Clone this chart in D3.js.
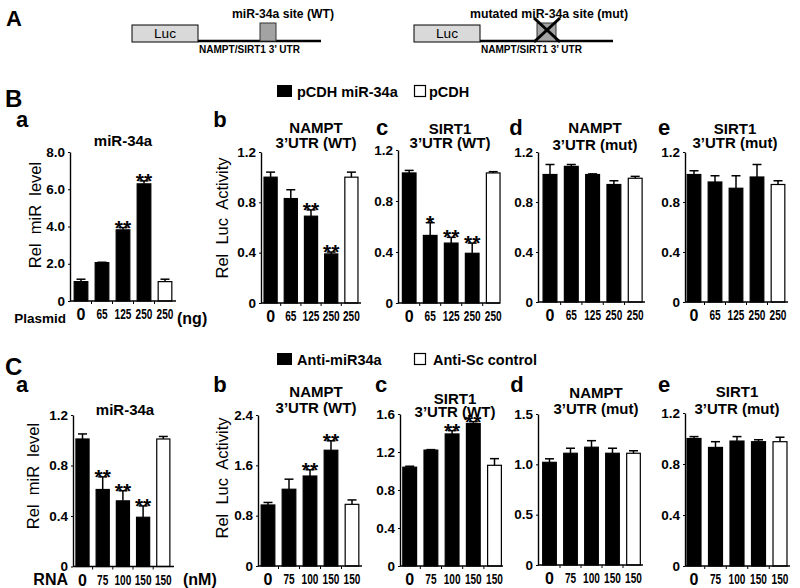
<!DOCTYPE html>
<html><head><meta charset="utf-8">
<script src="https://cdn.jsdelivr.net/npm/d3@7"></script>
<style>body{margin:0;background:#fff}svg{display:block;font-family:"Liberation Sans",Arial,sans-serif}</style>
</head><body><svg id="c" width="800" height="588"></svg>
<script>
// ---------- data ----------
const doseB = ["0","65","125","250","250"];
const doseC = ["0","75","100","150","150"];
const legendB = ["pCDH miR-34a","pCDH"];
const legendC = ["Anti-miR34a","Anti-Sc control"];

const baMean=[1.04,2.06,3.82,6.29,1.04], baErr=[0.13,0.02,0.12,0.16,0.13], baSig=["","","**","**",""];
const bbMean=[1.0,0.83,0.69,0.39,1.0],   bbErr=[0.04,0.07,0.05,0.015,0.04], bbSig=["","","**","**",""];
const bcMean=[1.02,0.53,0.47,0.39,1.02], bcErr=[0.02,0.10,0.045,0.08,0.01], bcSig=["","*","**","**",""];
const bdMean=[1.02,1.085,1.02,0.94,0.99],bdErr=[0.08,0.015,0.005,0.03,0.015], bdSig=["","","","",""];
const beMean=[1.02,0.96,0.91,1.0,0.94],  beErr=[0.03,0.05,0.10,0.10,0.03], beSig=["","","","",""];
const caMean=[1.01,0.61,0.52,0.39,1.01], caErr=[0.04,0.10,0.08,0.09,0.02], caSig=["","**","**","**",""];
const cbMean=[0.97,1.22,1.43,1.84,0.98], cbErr=[0.04,0.16,0.10,0.15,0.07], cbSig=["","","**","**",""];
const ccMean=[1.04,1.22,1.39,1.50,1.06], ccErr=[0.01,0.005,0.035,0.02,0.07], ccSig=["","","**","**",""];
const cdMean=[1.02,1.11,1.17,1.11,1.11], cdErr=[0.035,0.05,0.065,0.05,0.025], cdSig=["","","","",""];
const ceMean=[1.0,0.93,0.98,0.975,0.975],ceErr=[0.015,0.045,0.035,0.015,0.035], ceSig=["","","","",""];

const ticks8=[0,2,4,6,8], ticks12=[0,0.4,0.8,1.2], ticks24=[0,0.8,1.6,2.4], ticks16=[0,0.4,0.8,1.2,1.6], ticks15=[0,0.5,1.0,1.5];

// ---------- layout ----------
const panels = [
 {mean:baMean,err:baErr,sig:baSig,cats:doseB,ticks:ticks8, ax:70, c0:81,  step:21,  end:176,y0:301,yTop:152,title:["miR-34a"],tx:123,ty:[141],letter:"a",lx:22,ly:127,yt:"Rel  miR  level",ytx:35,yty:215},
 {mean:bbMean,err:bbErr,sig:bbSig,cats:doseB,ticks:ticks12,ax:261,c0:270.6,step:20.2,end:361,y0:303,yTop:152,title:["NAMPT","3’UTR (WT)"],tx:316,ty:[128,143],letter:"b",lx:220,ly:127,yt:"Rel  Luc  Activity",ytx:222,yty:218},
 {mean:bcMean,err:bcErr,sig:bcSig,cats:doseB,ticks:ticks12,ax:398,c0:409.2,step:21,end:500,y0:303,yTop:150,title:["SIRT1","3’UTR (WT)"],tx:450,ty:[129,143],letter:"c",lx:382,ly:135},
 {mean:bdMean,err:bdErr,sig:bdSig,cats:doseB,ticks:ticks12,ax:538,c0:550,step:21.3,end:645,y0:302,yTop:152,title:["NAMPT","3’UTR (mut)"],tx:595,ty:[128,145],letter:"d",lx:516,ly:135},
 {mean:beMean,err:beErr,sig:beSig,cats:doseB,ticks:ticks12,ax:685,c0:694,step:21,end:788,y0:302,yTop:152,title:["SIRT1","3’UTR (mut)"],tx:735,ty:[129,143],letter:"e",lx:664,ly:135},
 {mean:caMean,err:caErr,sig:caSig,cats:doseC,ticks:ticks12,ax:73, c0:82.5,step:20.2,end:174,y0:566.5,yTop:415,title:["miR-34a"],tx:125,ty:[410],letter:"a",lx:22,ly:392,yt:"Rel  miR  level",ytx:33,yty:476},
 {mean:cbMean,err:cbErr,sig:cbSig,cats:doseC,ticks:ticks24,ax:258,c0:268,step:21,end:362,y0:566,yTop:415,title:["NAMPT","3’UTR (WT)"],tx:316,ty:[392,408],letter:"b",lx:220,ly:392,yt:"Rel  Luc  Activity",ytx:222,yty:478},
 {mean:ccMean,err:ccErr,sig:ccSig,cats:doseC,ticks:ticks16,ax:400,c0:409.7,step:21.2,end:503,y0:566,yTop:414,title:["SIRT1","3’UTR (WT)"],tx:455,ty:[399,412],letter:"c",lx:381,ly:392},
 {mean:cdMean,err:cdErr,sig:cdSig,cats:doseC,ticks:ticks15,ax:538,c0:549.5,step:21,end:643,y0:565,yTop:414,title:["NAMPT","3’UTR (mut)"],tx:596,ty:[393,409],letter:"d",lx:517,ly:392},
 {mean:ceMean,err:ceErr,sig:ceSig,cats:doseC,ticks:ticks12,ax:685,c0:694,step:21.5,end:790,y0:566,yTop:413,title:["SIRT1","3’UTR (mut)"],tx:737,ty:[392,409],letter:"e",lx:664,ly:392}
];

const svg = d3.select("#c");
svg.append("rect").attr("width",800).attr("height",588).attr("fill","#fff");

function txt(x,y,s,size,weight,anchor,len){
  const t = svg.append("text").attr("x",x).attr("y",y).text(s)
    .attr("font-size",size).attr("font-weight",weight||"bold")
    .attr("text-anchor",anchor||"start").attr("fill","#000");
  if(len) t.attr("textLength",len).attr("lengthAdjust","spacingAndGlyphs");
  return t;
}

// ---------- panel A (construct diagrams) ----------
txt(6,26,"A",22,"bold");
function construct(x0, lineEnd, siteX, siteW, mutated, label, labelX, labelLen){
  svg.append("line").attr("x1",x0+66).attr("x2",lineEnd).attr("y1",41).attr("y2",41).attr("stroke","#000").attr("stroke-width",2.5);
  svg.append("rect").attr("x",x0).attr("y",25).attr("width",66).attr("height",17).attr("fill","#d9d9d9").attr("stroke","#000").attr("stroke-width",1);
  txt(x0+33,38,"Luc",12.5,"normal","middle",22);
  svg.append("rect").attr("x",siteX).attr("y",23).attr("width",siteW).attr("height",18).attr("fill","#a3a3a3").attr("stroke","#333").attr("stroke-width",1);
  if(mutated){
    svg.append("line").attr("x1",siteX-3).attr("y1",18).attr("x2",siteX+siteW+4).attr("y2",42).attr("stroke","#000").attr("stroke-width",3);
    svg.append("line").attr("x1",siteX+siteW+4).attr("y1",18).attr("x2",siteX-3).attr("y2",42).attr("stroke","#000").attr("stroke-width",3);
  }
  txt(labelX,18,label,12.5,"bold","middle",labelLen);
  txt(x0+67,53,"NAMPT/SIRT1 3’ UTR",10,"bold","start",101);
}
construct(132,321,260,16,false,"miR-34a site (WT)",283,102);
construct(414,613,537,19,true,"mutated  miR-34a site (mut)",549,158);

// ---------- row headers & legends ----------
txt(5,107,"B",24,"bold");
txt(5,375,"C",24,"bold");
function legend(y, names){
  svg.append("rect").attr("x",277).attr("y",y-12).attr("width",15).attr("height",12).attr("fill","#000");
  txt(297,y,names[0],14.5,"bold");
  svg.append("rect").attr("x",414.5).attr("y",y-11.5).attr("width",11).attr("height",11).attr("fill","#fff").attr("stroke","#000").attr("stroke-width",1.2);
  txt(names[1]==="pCDH"?429:433,y,names[1],14.5,"bold");
}
legend(97, legendB);
legend(365, legendC);

// ---------- bar panels ----------
panels.forEach(p=>{
  const n = p.cats.length;
  const r0 = p.c0 - p.step/2, r1 = r0 + p.step*n;
  const x = d3.scaleBand().domain(d3.range(n)).range([r0,r1]).paddingInner(0.35).paddingOuter(0.175);
  const max = p.ticks[p.ticks.length-1];
  const y = d3.scaleLinear().domain([0,max]).range([p.y0,p.yTop]);
  const g = svg.append("g");

  // bars
  g.selectAll("rect.bar").data(p.mean).join("rect")
    .attr("x",(d,i)=>x(i)).attr("width",x.bandwidth())
    .attr("y",d=>y(d)).attr("height",d=>p.y0-y(d))
    .attr("fill",(d,i)=>i===n-1?"#fff":"#000")
    .attr("stroke","#000").attr("stroke-width",1.2);
  // error bars
  p.mean.forEach((m,i)=>{
    const cx = x(i)+x.bandwidth()/2, yt = y(m+p.err[i]);
    g.append("line").attr("x1",cx).attr("x2",cx).attr("y1",y(m)).attr("y2",yt).attr("stroke","#000").attr("stroke-width",1.5);
    g.append("line").attr("x1",cx-4.5).attr("x2",cx+4.5).attr("y1",yt).attr("y2",yt).attr("stroke","#000").attr("stroke-width",1.5);
    if(p.sig[i]) g.append("text").attr("x",cx).attr("y",yt+7).attr("text-anchor","middle")
      .attr("font-size",21).attr("font-weight","bold").text(p.sig[i]);
  });

  // y axis
  const ya = d3.axisLeft(y).tickValues(p.ticks).tickSize(2).tickSizeOuter(0)
     .tickFormat(d=>d===0?"0":d.toFixed(1));
  const yg = g.append("g").attr("transform",`translate(${p.ax},0)`).call(ya);
  yg.select(".domain").attr("stroke","#000").attr("stroke-width",1.4);
  yg.selectAll(".tick line").attr("stroke","#000");
  yg.selectAll(".tick text").attr("font-size",13.5).attr("font-weight","bold").attr("fill","#000")
    .attr("font-family","Liberation Sans, Arial, sans-serif").attr("x",-5).attr("dy","0.3em");

  // x axis: baseline + boundary ticks
  g.append("line").attr("x1",p.ax).attr("x2",p.end).attr("y1",p.y0).attr("y2",p.y0).attr("stroke","#000").attr("stroke-width",1.4);
  d3.range(1,n).forEach(i=>{
    const bx = r0 + p.step*i;
    g.append("line").attr("x1",bx).attr("x2",bx).attr("y1",p.y0).attr("y2",p.y0+3).attr("stroke","#000").attr("stroke-width",1);
  });
  const xa = d3.axisBottom(x).tickSize(0).tickFormat(i=>p.cats[i]);
  const xg = g.append("g").attr("transform",`translate(0,${p.y0})`).call(xa);
  xg.select(".domain").remove();
  xg.selectAll(".tick text").attr("font-size",(d,i)=>i===0?16:14.5).attr("font-weight","bold").attr("fill","#000")
    .attr("font-family","Liberation Sans, Arial, sans-serif").attr("y",8).attr("dy","0.71em")
    .each(function(d,i){ if(i>0){ d3.select(this).attr("textLength",p.cats[i].length*5.6).attr("lengthAdjust","spacingAndGlyphs"); } });

  // titles
  p.title.forEach((t,k)=>{
    g.append("text").attr("x",p.tx).attr("y",p.ty[k]+5).attr("text-anchor","middle")
      .attr("font-size",15).attr("font-weight","bold").text(t);
  });
  // panel letter
  g.append("text").attr("x",p.lx).attr("y",p.ly).attr("text-anchor","middle").attr("font-size",22).attr("font-weight","bold").text(p.letter);
  // y title
  if(p.yt){
    g.append("text").attr("transform",`translate(${p.ytx+6},${p.yty}) rotate(-90)`).attr("text-anchor","middle")
      .attr("font-size",16.5).attr("xml:space","preserve").style("white-space","pre").text(p.yt);
  }
});

// unit labels
txt(66,323,"Plasmid",13.5,"bold","end");
txt(177,324,"(ng)",16,"bold","start");
txt(68,585,"RNA",16,"bold","end");
txt(183,585,"(nM)",16,"bold","start");
</script></body></html>
